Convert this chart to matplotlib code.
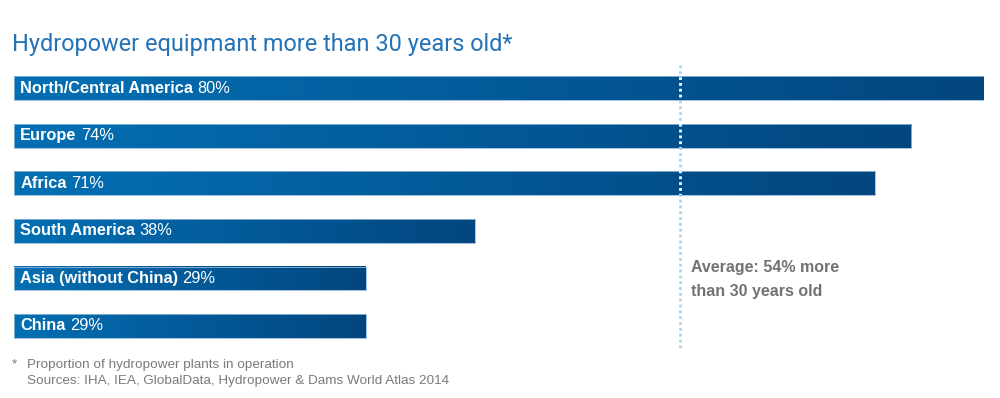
#! /usr/bin/env python3
# Hydropower equipment age by region: horizontal gradient bars.

import matplotlib.pyplot as plt
import numpy as np
from matplotlib.colors import LinearSegmentedColormap

regions = ["North/Central America", "Europe", "Africa", "South America",
           "Asia (without China)", "China"]
shares = [80, 74, 71, 38, 29, 29]
avg_share = 54
avg_marker = 54.9  # where the dotted average line sits on the bar scale

title = "Hydropower equipmant more than 30 years old*"
avg_text = f"Average: {avg_share}% more\nthan 30 years old"
footnote = "Proportion of hydropower plants in operation\nSources: IHA, IEA, GlobalData, Hydropower & Dams World Atlas 2014"

grad = LinearSegmentedColormap.from_list("grad", ["#0470b3", "#035a99", "#02467f"])
bar_h = 0.5
dots = dict(lw=2.0, linestyle=(0, (1, 1.1)), dash_capstyle="butt")

fig = plt.figure(figsize=(10, 3.98), dpi=100)
ax = fig.add_axes([0.014, 1 - 355 / 398, 0.970, 295 / 398])

ax.plot([avg_marker, avg_marker], [-0.48, 5.50], color="#a6d7f2", zorder=1, **dots)

ramp = np.linspace(0, 1, 256).reshape(1, -1)
for i, (name, val) in enumerate(zip(regions, shares)):
    ax.imshow(ramp, cmap=grad, extent=[0, val, i + bar_h / 2, i - bar_h / 2],
              aspect="auto", zorder=2, interpolation="bicubic")
    bar = plt.Rectangle((0, i - bar_h / 2), val, bar_h, facecolor="none",
                        edgecolor="#8fb8da", lw=0.6, zorder=3)
    ax.add_patch(bar)
    # white dots where the average line crosses a bar
    ln, = ax.plot([avg_marker, avg_marker], [-0.48, 5.50], color="white", zorder=4, **dots)
    ln.set_clip_path(bar)
    t = ax.annotate(name, xy=(0, i), xytext=(4.5, 0), textcoords="offset points",
                    va="center", ha="left", color="white", fontsize=11.8,
                    fontweight="bold", family="Liberation Sans", zorder=5)
    ax.annotate(f"{val}%", xy=(1, 0.5), xycoords=t, xytext=(3, 0),
                textcoords="offset points", va="center", ha="left",
                color="white", fontsize=11.8, family="Liberation Sans", zorder=5)

ax.set_xlim(0, 80)
ax.set_ylim(5.61, -0.59)
ax.axis("off")

fig.text(0.012, 1 - 44 / 398, title, fontsize=16.9, color="#2472b8",
         family="Roboto", fontweight="normal", va="center", ha="left")
ax.annotate(avg_text, xy=(avg_marker, 4.02), xytext=(8, 0), textcoords="offset points",
            va="center", ha="left", color="#727272", fontsize=11.5,
            fontweight="bold", family="Liberation Sans", linespacing=1.7)
fig.text(0.012, 1 - 364 / 398, "*", fontsize=9.7, color="#7a7a7a",
         family="Liberation Sans", va="center", ha="left")
fig.text(0.027, 1 - 373 / 398, footnote, fontsize=9.7, color="#7a7a7a",
         family="Liberation Sans", va="center", ha="left", linespacing=1.35)

fig.savefig("out.png", dpi=100)
